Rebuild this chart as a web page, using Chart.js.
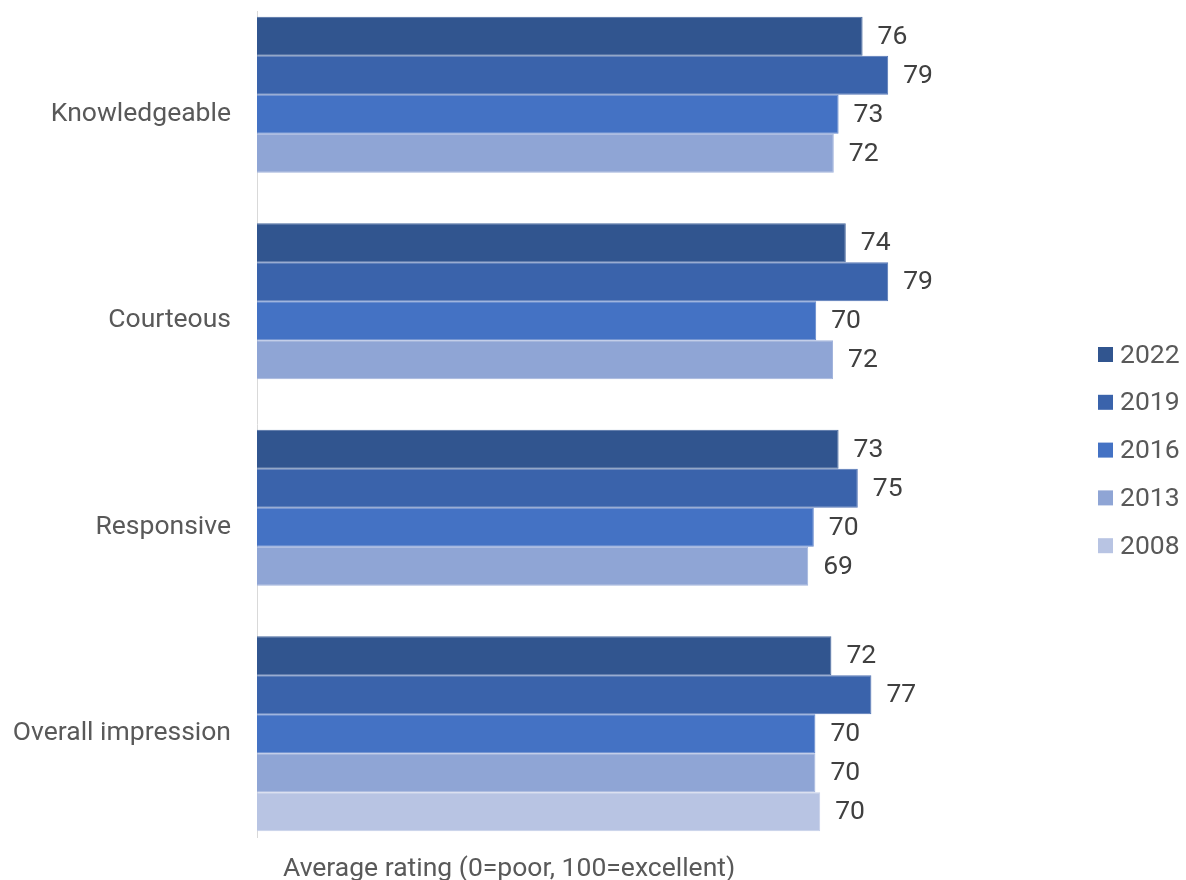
<!DOCTYPE html>
<html>
<head>
<meta charset="utf-8">
<script src="https://cdn.jsdelivr.net/npm/chart.js@4.4.1/dist/chart.umd.min.js"></script>
<style>
  html, body { margin: 0; padding: 0; background: #ffffff; }
  #wrap { width: 1186px; height: 880px; }
</style>
</head>
<body>
<div id="wrap"><canvas id="ratingChart" width="1186" height="880"></canvas></div>
<script>
// Survey ratings by year
const categories = ["Knowledgeable", "Courteous", "Responsive", "Overall impression"];
const years = ["2022", "2019", "2016", "2013", "2008"];

const values2022 = [75.7, 73.6, 72.7, 71.8];
const values2019 = [78.9, 78.9, 75.1, 76.8];
const values2016 = [72.7, 69.9, 69.6, 69.8];
const values2013 = [72.1, 72.0, 68.9, 69.8];
const values2008 = [null, null, null, 70.4];

const barColors = ["#31558F", "#3A63AB", "#4472C4", "#8FA5D5", "#B8C4E3"];
const edgeColors = ["#4A6AA0", "#5576B5", "#6286CB", "#A2B4DC", "#C6D0E9"];

const axisTitle = "Average rating (0=poor, 100=excellent)";
const textColor = "#595959";
const fontSize = 26.5;

// Value labels at the end of each bar
const valueLabels = {
  id: "valueLabels",
  afterDatasetsDraw(chart) {
    const ctx = chart.ctx;
    ctx.save();
    ctx.font = fontSize + "px Roboto";
    ctx.fillStyle = "#404040";
    ctx.textAlign = "left";
    ctx.textBaseline = "middle";
    chart.data.datasets.forEach(function (dataset, i) {
      const meta = chart.getDatasetMeta(i);
      meta.data.forEach(function (bar, j) {
        const v = dataset.data[j];
        if (v === null) return;
        ctx.fillText(String(Math.round(v)), bar.x + 15, bar.y + 1);
      });
    });
    ctx.restore();
  }
};

// Legend on the right and the axis title under the plot
const sideLegend = {
  id: "sideLegend",
  afterDraw(chart) {
    const ctx = chart.ctx;
    const area = chart.chartArea;
    ctx.save();
    ctx.font = fontSize + "px Roboto";
    ctx.textBaseline = "middle";
    ctx.textAlign = "left";
    const x = area.right + 41;
    const y0 = 355;
    chart.data.datasets.forEach(function (dataset, i) {
      const y = y0 + i * 47.8;
      ctx.fillStyle = dataset.backgroundColor;
      ctx.fillRect(x, y - 8, 15, 15);
      ctx.fillStyle = textColor;
      ctx.fillText(dataset.label, x + 22, y + 1);
    });

    ctx.fillText(axisTitle, area.left + 26, chart.height - 11);
    ctx.restore();
  }
};

const seriesValues = [values2022, values2019, values2016, values2013, values2008];

const datasets = years.map(function (year, i) {
  return {
    label: year,
    data: seriesValues[i],
    backgroundColor: barColors[i],
    borderColor: edgeColors[i],
    borderWidth: 1,
    borderSkipped: "left"
  };
});

new Chart(document.getElementById("ratingChart"), {
  type: "bar",
  data: {
    labels: categories,
    datasets: datasets
  },
  options: {
    indexAxis: "y",
    responsive: false,
    animation: false,
    layout: {
      padding: { top: 11, bottom: 43, left: 0, right: 129 }
    },
    datasets: {
      bar: {
        categoryPercentage: 0.944,
        barPercentage: 1
      }
    },
    scales: {
      x: {
        display: false,
        min: 0,
        max: 100
      },
      y: {
        grid: { display: false, drawTicks: false },
        border: { display: true, color: "#D9D9D9", width: 1 },
        ticks: {
          color: textColor,
          padding: 26,
          font: { family: "Roboto", size: fontSize, lineHeight: 1.35 }
        },
        afterFit: function (scale) {
          scale.width = 257;
          scale.paddingTop = 0;
          scale.paddingBottom = 0;
        }
      }
    },
    plugins: {
      legend: { display: false },
      tooltip: { enabled: false }
    }
  },
  plugins: [valueLabels, sideLegend]
});
</script>
</body>
</html>
